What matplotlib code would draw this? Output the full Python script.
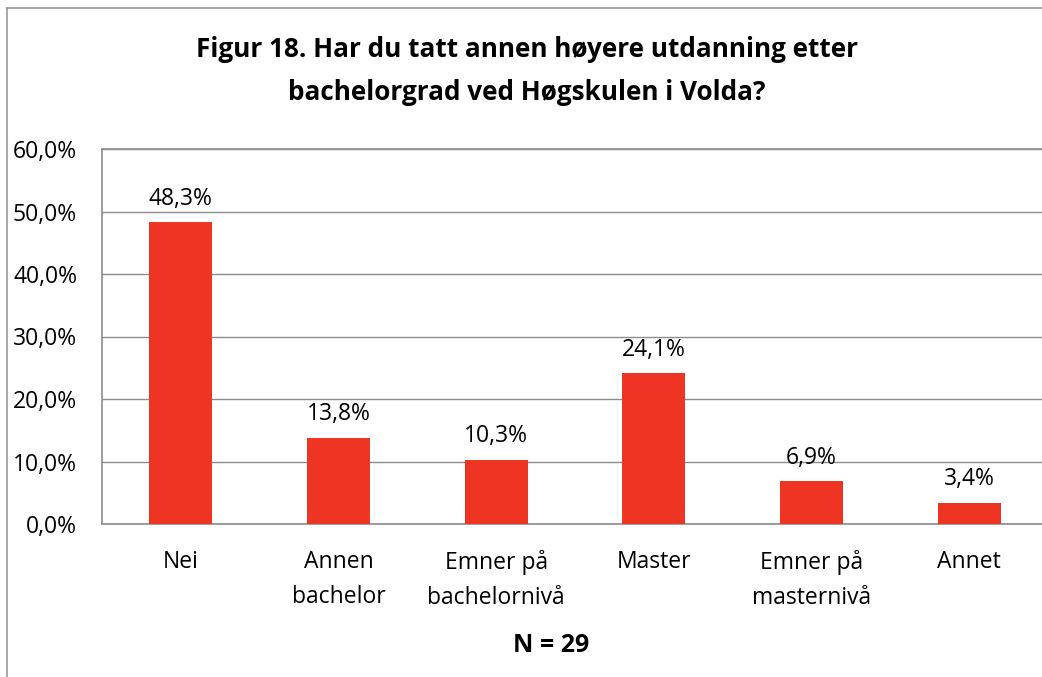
import matplotlib

matplotlib.use("Agg")
import matplotlib.pyplot as plt
from matplotlib.lines import Line2D
from matplotlib.ticker import FuncFormatter

categories = ["Nei", "Annen\nbachelor", "Emner på\nbachelornivå", "Master", "Emner på\nmasternivå", "Annet"]
values = [48.3, 13.8, 10.3, 24.1, 6.9, 3.4]
yticks = [0, 10, 20, 30, 40, 50, 60]

title = "Figur 18. Har du tatt annen høyere utdanning etter\nbachelorgrad ved Høgskulen i Volda?"
note = "N = 29"

plt.rcParams["font.family"] = ["Open Sans", "DejaVu Sans"]

W, H = 1042, 677
fig = plt.figure(figsize=(W / 100, H / 100), dpi=100)

# outer chart border (left and top only are visible)
fig.add_artist(Line2D([7 / W, 7 / W], [0, 1 - 8 / H], color="#9a9a9a", lw=1.2))
fig.add_artist(Line2D([7 / W, 1], [1 - 8 / H, 1 - 8 / H], color="#9a9a9a", lw=1.2))

ax = fig.add_axes([102 / W, 1 - 524 / H, 946 / W, 375 / H])
x = range(len(categories))
ax.bar(x, values, width=0.4, color="#EE3524", zorder=3)

for xi, v in zip(x, values):
    ax.text(xi, v + 1.8, f"{v:.1f}%".replace(".", ","), ha="center", va="bottom", fontsize=16.5)

ax.set_xlim(-0.5, len(categories) - 0.5)
ax.set_ylim(0, 60)
ax.set_yticks(yticks)
ax.yaxis.set_major_formatter(FuncFormatter(lambda v, _: f"{v:.1f}%".replace(".", ",")))
ax.set_xticks(list(x))
ax.set_xticklabels(categories, fontsize=16.5, linespacing=1.6)
ax.tick_params(axis="y", labelsize=16.5, length=0, pad=18)
ax.tick_params(axis="x", length=0, pad=19)
ax.grid(axis="y", color="#8c8c8c", lw=1.0, zorder=0)
for side in ["left", "top", "bottom", "right"]:
    ax.spines[side].set_color("#8c8c8c")
    ax.spines[side].set_linewidth(1.2)

fig.text(527 / W, 1 - 71 / H, title, ha="center", va="center", fontsize=18.8,
         fontweight="bold", linespacing=1.75)
fig.text(551 / W, 1 - 645 / H, note, ha="center", va="center", fontsize=18, fontweight="bold")

fig.savefig("out.png", dpi=100)
